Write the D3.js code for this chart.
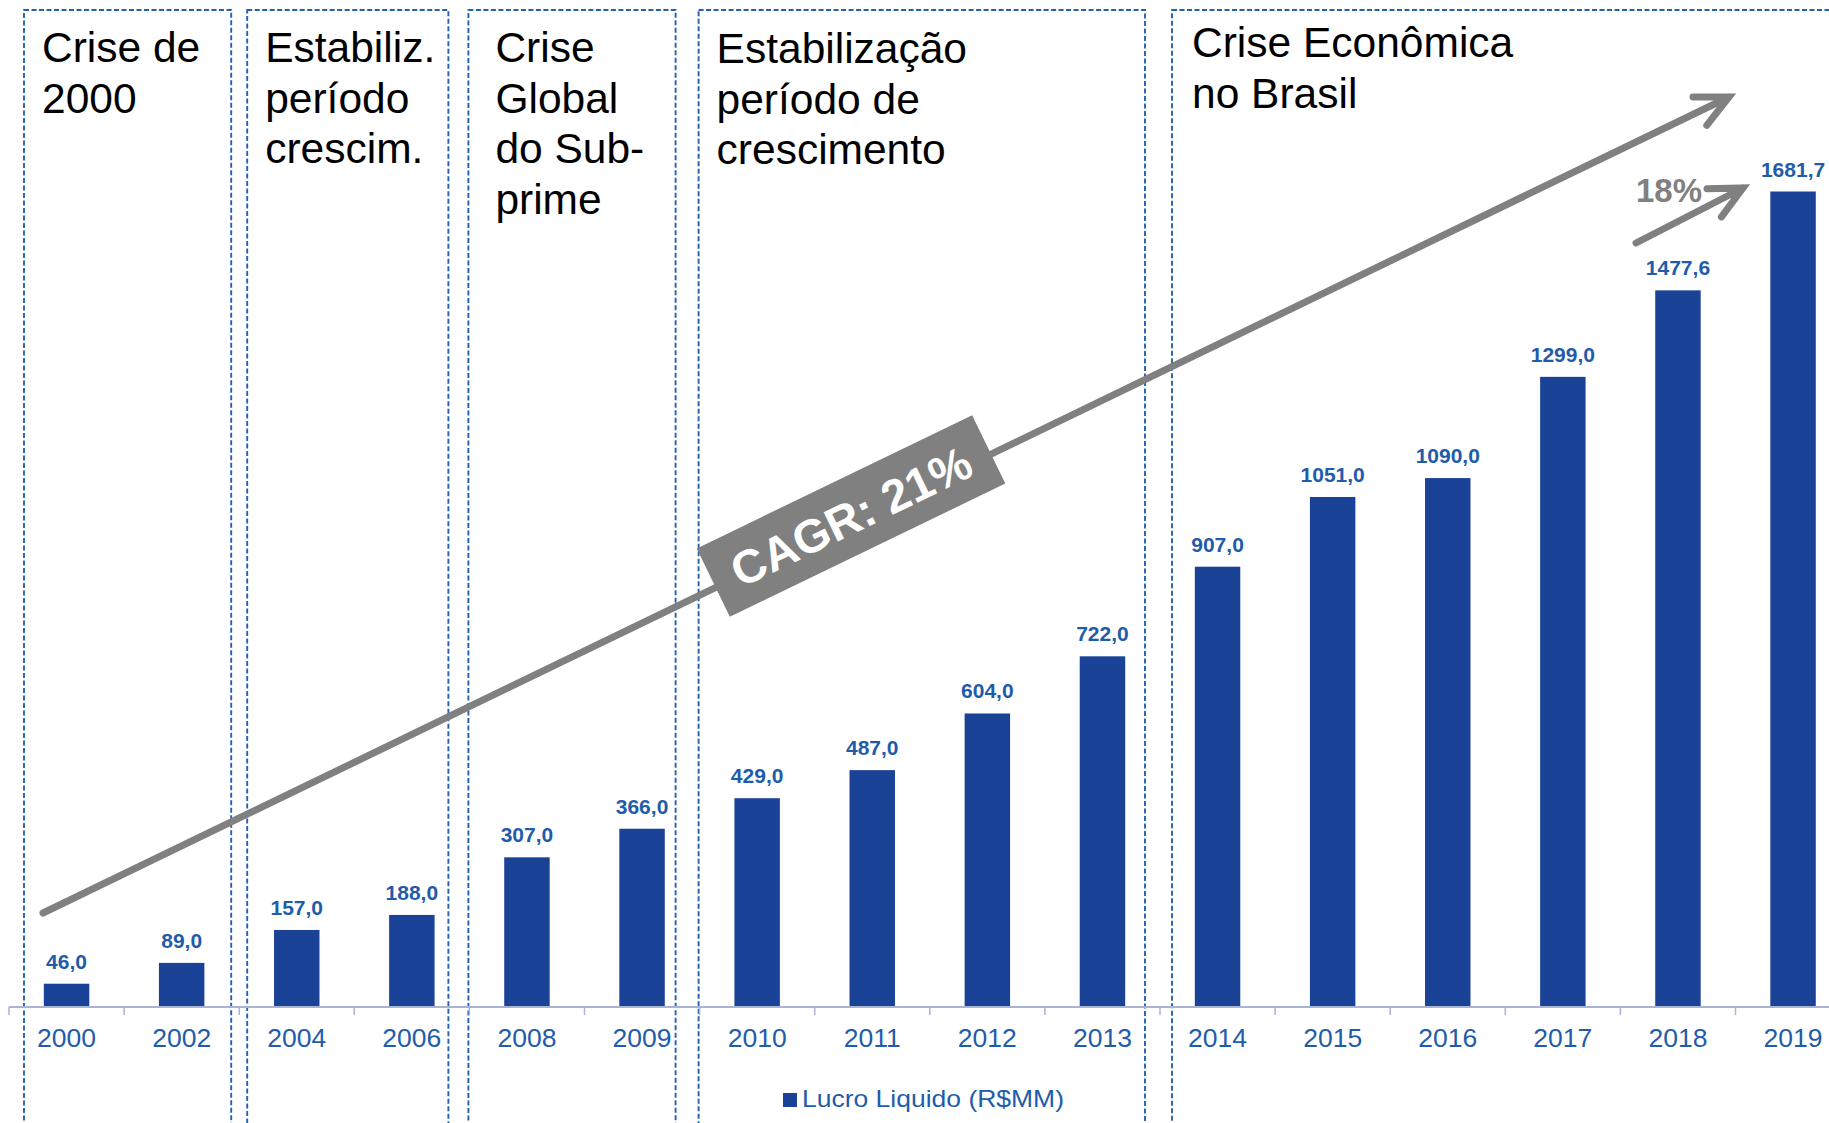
<!DOCTYPE html>
<html>
<head>
<meta charset="utf-8">
<script src="https://cdn.jsdelivr.net/npm/d3@7"></script>
<style>
  html, body { margin: 0; padding: 0; background: #fff; }
  svg { display: block; }
  text { font-family: "Liberation Sans", Arial, sans-serif; }
</style>
</head>
<body>
<svg id="chart" width="1829" height="1123"></svg>
<script>
// ---- data ----
const years = ["2000","2002","2004","2006","2008","2009","2010","2011","2012","2013","2014","2015","2016","2017","2018","2019"];
const lucro = [46.0, 89.0, 157.0, 188.0, 307.0, 366.0, 429.0, 487.0, 604.0, 722.0, 907.0, 1051.0, 1090.0, 1299.0, 1477.6, 1681.7];
const seriesName = "Lucro Liquido (R$MM)";
const periodTitles = [
  ["Crise de", "2000"],
  ["Estabiliz.", "período", "crescim."],
  ["Crise", "Global", "do Sub-", "prime"],
  ["Estabilização", "período de", "crescimento"],
  ["Crise Econômica", "no Brasil"]
];
const periodStart = ["2000", "2004", "2008", "2010", "2014"];
const periodEnd   = ["2002", "2006", "2009", "2013", "2019"];
const cagrLabel = "CAGR: 21%";
const recentLabel = "18%";

// ---- drawing ----
const W = 1829, H = 1123;
const svg = d3.select("#chart");
svg.append("rect").attr("width", W).attr("height", H).attr("fill", "#fff");

const step = 115.1;
const x = d3.scaleBand().domain(years).range([9, 9 + years.length * step])
  .paddingInner(0.605).paddingOuter(0.3025);
const y = d3.scaleLinear().domain([0, 1681.7]).range([1006, 191.5]);
const half = (x.step() - x.bandwidth()) / 2;

const barColor = "#1a4397";
const labelBlue = "#1f5caa";
const boxBlue = "#2462ae";
const gray = "#808080";

// period boxes
const leftAdj = [15, 8, -1, -1, 12];
const rightAdj = [-8, -21, -24, -15, 20];
const textInset = [18, 18, 27, 18, 20];
const firstBase = [62, 62, 62, 63, 57];
const lineH = 50.7;
const gBoxes = svg.append("g");
periodTitles.forEach((lines, i) => {
  const lb = x(periodStart[i]) - half + leftAdj[i];
  const rb = x(periodEnd[i]) + x.bandwidth() + half + rightAdj[i];
  gBoxes.append("rect")
    .attr("x", lb).attr("y", 10)
    .attr("width", rb - lb).attr("height", H + 20)
    .attr("fill", "none").attr("stroke", boxBlue)
    .attr("stroke-width", 1.9).attr("stroke-dasharray", "5,2.5");
  const t = gBoxes.append("text")
    .attr("fill", "#000").attr("font-size", 42.5);
  lines.forEach((ln, j) => {
    t.append("tspan").attr("x", lb + textInset[i]).attr("y", firstBase[i] + j * lineH).text(ln);
  });
});

// bars
svg.append("g").selectAll("rect").data(years).join("rect")
  .attr("x", d => x(d))
  .attr("y", (d, i) => y(lucro[i]))
  .attr("width", x.bandwidth())
  .attr("height", (d, i) => y(0) - y(lucro[i]))
  .attr("fill", barColor);

// value labels
svg.append("g").selectAll("text").data(years).join("text")
  .attr("x", d => x(d) + x.bandwidth() / 2)
  .attr("y", (d, i) => y(lucro[i]) - 15)
  .attr("text-anchor", "middle")
  .attr("font-size", 21).attr("font-weight", "bold")
  .attr("fill", labelBlue)
  .text((d, i) => lucro[i].toFixed(1).replace(".", ","));

// x axis
const axisG = svg.append("g");
axisG.append("line")
  .attr("x1", x(years[0]) - half).attr("x2", W)
  .attr("y1", y(0) + 1).attr("y2", y(0) + 1)
  .attr("stroke", "#a9b3d3").attr("stroke-width", 2.2);
const bounds = years.map(d => x(d) - half).concat([x(years[years.length - 1]) + x.bandwidth() + half]);
axisG.selectAll("line.tick").data(bounds).join("line")
  .attr("class", "tick")
  .attr("x1", d => d).attr("x2", d => d)
  .attr("y1", y(0) + 1).attr("y2", y(0) + 9)
  .attr("stroke", "#a9b3d3").attr("stroke-width", 1.5);
axisG.selectAll("text").data(years).join("text")
  .attr("x", d => x(d) + x.bandwidth() / 2)
  .attr("y", y(0) + 41)
  .attr("text-anchor", "middle")
  .attr("font-size", 26.5).attr("fill", labelBlue)
  .text(d => d);

// legend
const lg = svg.append("g");
lg.append("rect").attr("x", 783).attr("y", 1093).attr("width", 14).attr("height", 14).attr("fill", barColor);
lg.append("text").attr("x", 802).attr("y", 1107)
  .attr("font-size", 24.5).attr("fill", labelBlue)
  .attr("textLength", 262).attr("lengthAdjust", "spacingAndGlyphs")
  .text(seriesName);

// arrows
function arrow(x0, y0, x1, y1, w) {
  const ang = Math.atan2(y1 - y0, x1 - x0);
  const phi = 26 * Math.PI / 180, L = 36;
  const a1 = [x1 + L * Math.cos(ang + Math.PI - phi), y1 + L * Math.sin(ang + Math.PI - phi)];
  const a2 = [x1 + L * Math.cos(ang + Math.PI + phi), y1 + L * Math.sin(ang + Math.PI + phi)];
  const p = d3.path();
  p.moveTo(x0, y0); p.lineTo(x1, y1);
  p.moveTo(a1[0], a1[1]); p.lineTo(x1, y1); p.lineTo(a2[0], a2[1]);
  svg.append("path").attr("d", p.toString())
    .attr("fill", "none").attr("stroke", gray).attr("stroke-width", w)
    .attr("stroke-linecap", "round").attr("stroke-linejoin", "miter");
}
arrow(43, 913, 1729, 97, 7);
arrow(1636, 243, 1743, 188, 7);

// CAGR label
const cx = 851, cy = 516;
const ang = Math.atan2(97 - 913, 1729 - 43) * 180 / Math.PI;
const cg = svg.append("g").attr("transform", `translate(${cx},${cy}) rotate(${ang})`);
cg.append("rect").attr("x", -153).attr("y", -38).attr("width", 306).attr("height", 76).attr("fill", gray);
cg.append("text").attr("x", 0).attr("y", 17)
  .attr("text-anchor", "middle").attr("font-size", 47).attr("font-weight", "bold")
  .attr("fill", "#fff").text(cagrLabel);

// 18% label
svg.append("text").attr("x", 1636).attr("y", 202)
  .attr("font-size", 33).attr("font-weight", "bold").attr("fill", gray)
  .text(recentLabel);
</script>
</body>
</html>
